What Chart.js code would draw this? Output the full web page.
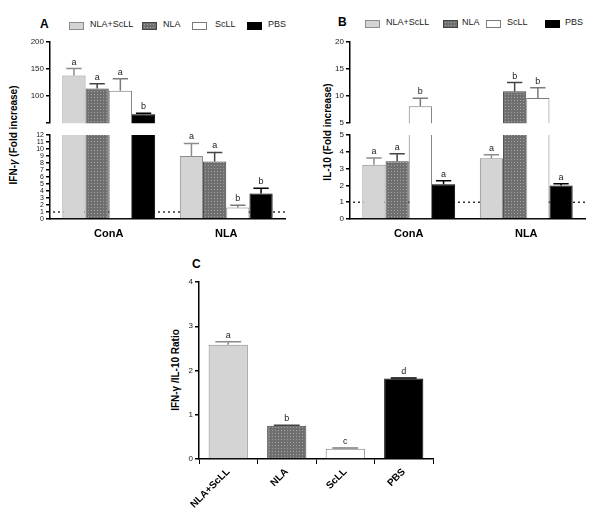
<!DOCTYPE html>
<html>
<head>
<meta charset="utf-8">
<script src="https://cdn.jsdelivr.net/npm/chart.js@4.4.0/dist/chart.umd.min.js"></script>
<style>
body { margin: 0; background: #fff; font-family: Arial, "Liberation Sans", sans-serif; }
#wrap { position: relative; width: 600px; height: 529px; overflow: hidden; }
canvas { position: absolute; }
.letter { position: absolute; font-weight: bold; font-size: 12px; }
.ytitle { position: absolute; font-weight: bold; font-size: 10px; white-space: nowrap; transform: translate(-50%, -50%) rotate(-90deg); }
.leg { position: absolute; font-size: 9px; white-space: nowrap; color: #222; }
.box { position: absolute; width: 13px; height: 6px; border: 1px solid #777; }
</style>
</head>
<body>
<div id="wrap">
  <div class="letter" style="left:40px;top:17px">A</div>
  <div class="letter" style="left:338px;top:15px">B</div>
  <div class="letter" style="left:192px;top:257px">C</div>
  <div class="ytitle" style="left:13px;top:135px">IFN-<i>γ</i> (Fold increase)</div>
  <div class="ytitle" style="left:327px;top:132px">IL-10 (Fold increase)</div>
  <div class="ytitle" style="left:175px;top:370px">IFN-γ /IL-10 Ratio</div>
  <div id="legA"></div>
  <div id="legB"></div>
  <canvas id="aTop" width="295" height="100" style="left:0;top:30px"></canvas>
  <canvas id="aBot" width="295" height="120" style="left:0;top:128px"></canvas>
  <canvas id="bTop" width="295" height="100" style="left:300px;top:30px"></canvas>
  <canvas id="bBot" width="295" height="120" style="left:300px;top:128px"></canvas>
  <canvas id="cChart" width="320" height="271" style="left:130px;top:258px"></canvas>
</div>
<script>
// groups and series
const groups = ['ConA', 'NLA'];
const seriesNames = ['NLA+ScLL', 'NLA', 'ScLL', 'PBS'];

// IFN-gamma fold increase, one row per series: [ConA, NLA]
const ifnMean = [[138, 9.0], [114, 8.2], [110, 1.65], [66.5, 3.65]];
const ifnErr = [[13, 1.8], [9, 1.3], [22, 0.3], [2, 0.75]];
const ifnLetters = [['a', 'a'], ['a', 'a'], ['a', 'b'], ['b', 'b']];

// IL-10 fold increase, one row per series: [ConA, NLA]
const il10Mean = [[3.23, 3.62], [3.44, 10.9], [8.13, 9.64], [2.07, 1.99]];
const il10Err = [[0.4, 0.2], [0.45, 1.6], [1.5, 1.9], [0.2, 0.11]];
const il10Letters = [['a', 'a'], ['a', 'b'], ['b', 'b'], ['a', 'a']];

// IFN-gamma / IL-10 ratio
const ratioMean = [2.58, 0.75, 0.23, 1.82];
const ratioErr = [0.07, 0.015, 0.02, 0.01];
const ratioLetters = ['a', 'b', 'c', 'd'];

const fillColors = ['#d4d4d4', null, '#ffffff', '#000000'];
const borderColors = ['#8c8c8c', '#444444', '#7a7a7a', '#000000'];

function dotPattern(ctx) {
  const c = document.createElement('canvas');
  c.width = 3; c.height = 3;
  const p = c.getContext('2d');
  p.fillStyle = '#6f6f6f';
  p.fillRect(0, 0, 3, 3);
  p.fillStyle = '#a4a4a4';
  p.fillRect(1, 1, 1, 1);
  return ctx.createPattern(c, 'repeat');
}

// legends (html)
function buildLegend(id, boxX, textX, y) {
  const el = document.getElementById(id);
  seriesNames.forEach((name, i) => {
    const b = document.createElement('div');
    b.className = 'box';
    b.style.left = boxX[i] + 'px';
    b.style.top = y + 'px';
    b.style.borderColor = borderColors[i];
    if (i === 1) b.style.background = 'radial-gradient(circle, #a4a4a4 0.6px, #6f6f6f 0.9px) 0 0 / 3px 3px';
    else b.style.background = fillColors[i];
    el.appendChild(b);
    const t = document.createElement('div');
    t.className = 'leg';
    t.style.left = textX[i] + 'px';
    t.style.top = (y - 3) + 'px';
    t.textContent = name;
    el.appendChild(t);
  });
}
buildLegend('legA', [69, 142, 192, 247], [90, 163, 215, 268], 22);
buildLegend('legB', [365, 443, 486, 545], [386, 462, 507, 565], 20);

const errorBars = {
  id: 'errorBars',
  afterDatasetsDraw(chart) {
    const { ctx, chartArea: a } = chart;
    const ys = chart.scales.y;
    ctx.save();
    ctx.beginPath();
    ctx.rect(a.left, a.top - 1, a.right - a.left, a.bottom - a.top + 1);
    ctx.clip();
    chart.data.datasets.forEach((ds, di) => {
      const meta = chart.getDatasetMeta(di);
      meta.data.forEach((bar, i) => {
        const v = ds.data[i];
        const top = v + ds.err[i];
        // only the segment of a broken axis that holds the error bar draws it
        if (top < ys.min || top > ys.max) return;
        const y0 = ys.getPixelForValue(v);
        const y1 = ys.getPixelForValue(top);
        const half = bar.width * 0.33;
        ctx.strokeStyle = ds.errColor[i];
        ctx.lineWidth = 1.5;
        ctx.beginPath();
        ctx.moveTo(bar.x, y0);
        ctx.lineTo(bar.x, y1);
        ctx.moveTo(bar.x - half, y1);
        ctx.lineTo(bar.x + half, y1);
        ctx.stroke();
        ctx.fillStyle = '#222';
        ctx.font = '9px Arial';
        ctx.textAlign = 'center';
        ctx.textBaseline = 'bottom';
        ctx.fillText(ds.letters[i], bar.x, y1 - 2);
      });
    });
    ctx.restore();
  }
};

const refLine = {
  id: 'refLine',
  beforeDatasetsDraw(chart) {
    const { ctx, chartArea: a } = chart;
    const py = chart.scales.y.getPixelForValue(1);
    ctx.save();
    ctx.setLineDash([2, 3]);
    ctx.strokeStyle = '#333';
    ctx.lineWidth = 1.5;
    ctx.beginPath();
    ctx.moveTo(a.left + 3, py);
    ctx.lineTo(a.right, py);
    ctx.stroke();
    ctx.restore();
  }
};

function yAxis(min, max, step, size, hideMin, width) {
  return {
    min: min, max: max,
    ticks: {
      stepSize: step, autoSkip: false, color: '#222', padding: 2,
      font: { size: size, family: 'Arial' },
      callback: v => (hideMin && v === min) ? '' : v
    },
    grid: { display: true, drawOnChartArea: false, drawTicks: true, tickLength: 4, color: '#000', lineWidth: 1.5 },
    border: { display: true, color: '#000', width: 1.5 },
    afterFit: s => { s.width = width; }
  };
}

function groupDatasets(ctx, means, errs, letters) {
  const pat = dotPattern(ctx);
  return seriesNames.map((name, i) => ({
    label: name,
    data: means[i],
    err: errs[i],
    letters: letters[i],
    errColor: means[i].map(() => i === 3 ? '#000' : borderColors[i]),
    backgroundColor: i === 1 ? pat : fillColors[i],
    borderColor: borderColors[i],
    borderWidth: 1,
    borderSkipped: 'start',
    categoryPercentage: 0.79,
    barPercentage: 1.0
  }));
}

function brokenPanel(topId, botId, means, errs, letters, upper, lower) {
  const topCtx = document.getElementById(topId).getContext('2d');
  new Chart(topCtx, {
    type: 'bar',
    data: { labels: groups, datasets: groupDatasets(topCtx, means, errs, letters) },
    options: {
      responsive: false, animation: false, devicePixelRatio: 1,
      layout: { padding: { top: 12, right: 10, bottom: 4, left: 0 } },
      plugins: { legend: { display: false }, tooltip: { enabled: false } },
      scales: {
        x: { display: false },
        y: yAxis(upper[0], upper[1], upper[2], 8, upper[3], 50)
      }
    },
    plugins: [errorBars]
  });
  const botCtx = document.getElementById(botId).getContext('2d');
  new Chart(botCtx, {
    type: 'bar',
    data: { labels: groups, datasets: groupDatasets(botCtx, means, errs, letters) },
    options: {
      responsive: false, animation: false, devicePixelRatio: 1,
      layout: { padding: { top: 7, right: 10, bottom: 0, left: 0 } },
      plugins: { legend: { display: false }, tooltip: { enabled: false } },
      scales: {
        x: {
          ticks: { color: '#000', padding: 8, font: { size: 11, weight: 'bold', family: 'Arial' } },
          grid: { display: false, drawTicks: false },
          border: { display: true, color: '#000', width: 1.5 },
          afterFit: s => { s.height = 29; }
        },
        y: yAxis(lower[0], lower[1], lower[2], lower[3], false, 50)
      }
    },
    plugins: [refLine, errorBars]
  });
}

brokenPanel('aTop', 'aBot', ifnMean, ifnErr, ifnLetters, [50, 200, 50, true], [0, 12, 1, 7]);
brokenPanel('bTop', 'bBot', il10Mean, il10Err, il10Letters, [5, 20, 5, false], [0, 5, 1, 8]);

// panel C
const cCtx = document.getElementById('cChart').getContext('2d');
const cPat = dotPattern(cCtx);
new Chart(cCtx, {
  type: 'bar',
  data: {
    labels: seriesNames,
    datasets: [{
      data: ratioMean,
      err: ratioErr,
      letters: ratioLetters,
      errColor: borderColors.map((c, i) => i === 3 ? '#000' : c),
      backgroundColor: [fillColors[0], cPat, fillColors[2], fillColors[3]],
      borderColor: borderColors,
      borderWidth: 1,
      borderSkipped: 'start',
      categoryPercentage: 1.0,
      barPercentage: 0.67
    }]
  },
  options: {
    responsive: false, animation: false, devicePixelRatio: 1,
    layout: { padding: { top: 24, right: 17, bottom: 0, left: 0 } },
    plugins: { legend: { display: false }, tooltip: { enabled: false } },
    scales: {
      x: {
        ticks: { color: '#000', padding: 2, minRotation: 45, maxRotation: 45, font: { size: 10, weight: 'bold', family: 'Arial' } },
        grid: { display: true, drawOnChartArea: false, drawTicks: true, tickLength: 5, color: '#000', lineWidth: 1 },
        border: { display: true, color: '#000', width: 1.5 },
        afterFit: s => { s.height = 70; }
      },
      y: yAxis(0, 4, 1, 8, false, 69)
    }
  },
  plugins: [errorBars]
});
</script>
</body>
</html>
